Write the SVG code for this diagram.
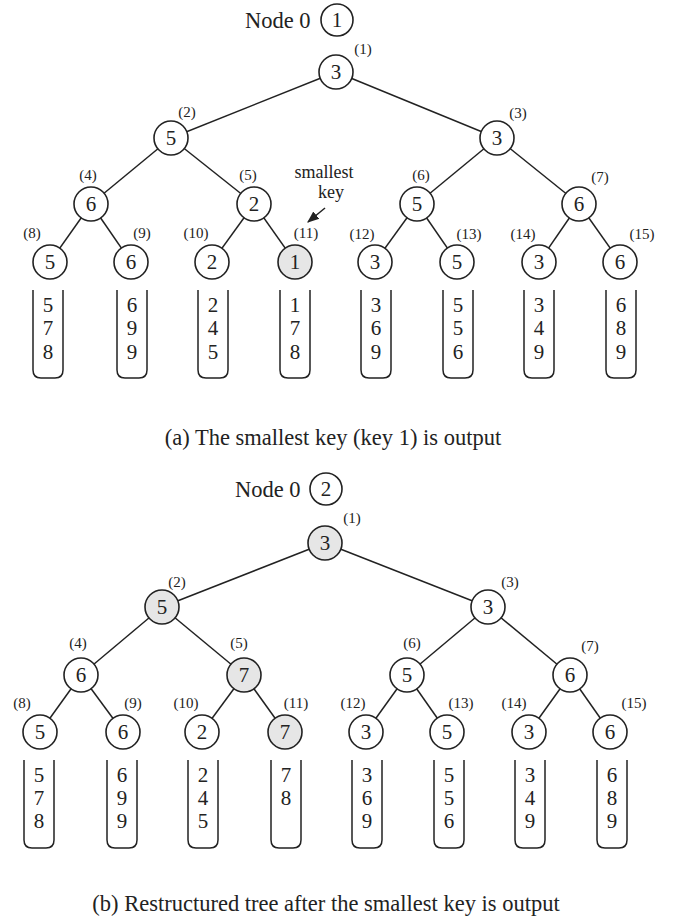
<svg xmlns="http://www.w3.org/2000/svg" width="680" height="921" viewBox="0 0 680 921">
<defs>
<style>
.e{stroke:#222;stroke-width:1.5;fill:none}
.n circle{fill:#fff;stroke:#222;stroke-width:1.6}
.n.s circle{fill:#e6e6e6}
.n text,.d{font-family:"Liberation Serif",serif;font-size:21px;fill:#222;text-anchor:middle}
.l{font-family:"Liberation Serif",serif;font-size:15px;fill:#222;text-anchor:middle}
.t{font-family:"Liberation Serif",serif;font-size:22.5px;fill:#222}
.r{stroke:#222;stroke-width:1.5;fill:none}
</style>
<marker id="ah" viewBox="0 0 10 10" refX="9" refY="5" markerWidth="8" markerHeight="8" orient="auto-start-reverse">
<path d="M0,1 L10,5 L0,9 z" fill="#222"/>
</marker>
</defs>
<rect width="680" height="921" fill="#fff"/>

<!-- Part (a) -->
<g id="connectors-a">
<line class="e" x1="336" y1="72" x2="171" y2="138"/>
<line class="e" x1="336" y1="72" x2="497" y2="138"/>
<line class="e" x1="171" y1="138" x2="91" y2="204"/>
<line class="e" x1="171" y1="138" x2="254" y2="204"/>
<line class="e" x1="497" y1="138" x2="417" y2="204"/>
<line class="e" x1="497" y1="138" x2="579" y2="204"/>
<line class="e" x1="91" y1="204" x2="50" y2="262"/>
<line class="e" x1="91" y1="204" x2="131" y2="262"/>
<line class="e" x1="254" y1="204" x2="212" y2="262"/>
<line class="e" x1="254" y1="204" x2="295" y2="262"/>
<line class="e" x1="417" y1="204" x2="375" y2="262"/>
<line class="e" x1="417" y1="204" x2="457" y2="262"/>
<line class="e" x1="579" y1="204" x2="539" y2="262"/>
<line class="e" x1="579" y1="204" x2="620" y2="262"/>
<line class="e" x1="325" y1="208" x2="308" y2="222" marker-end="url(#ah)"/>
</g>

<text class="t" x="245" y="28">Node 0</text>
<g id="a-node0" class="n"><circle cx="337" cy="20" r="16"/><text x="337" y="27">1</text></g>
<g id="a-n1" class="n"><circle cx="336" cy="72" r="17"/><text x="336" y="79">3</text></g>
<g id="a-n2" class="n"><circle cx="171" cy="138" r="17"/><text x="171" y="145">5</text></g>
<g id="a-n3" class="n"><circle cx="497" cy="138" r="17"/><text x="497" y="145">3</text></g>
<g id="a-n4" class="n"><circle cx="91" cy="204" r="17"/><text x="91" y="211">6</text></g>
<g id="a-n5" class="n"><circle cx="254" cy="204" r="17"/><text x="254" y="211">2</text></g>
<g id="a-n6" class="n"><circle cx="417" cy="204" r="17"/><text x="417" y="211">5</text></g>
<g id="a-n7" class="n"><circle cx="579" cy="204" r="17"/><text x="579" y="211">6</text></g>
<g id="a-n8" class="n"><circle cx="50" cy="262" r="17"/><text x="50" y="269">5</text></g>
<g id="a-n9" class="n"><circle cx="131" cy="262" r="17"/><text x="131" y="269">6</text></g>
<g id="a-n10" class="n"><circle cx="212" cy="262" r="17"/><text x="212" y="269">2</text></g>
<g id="a-n11" class="n s"><circle cx="295" cy="262" r="17"/><text x="295" y="269">1</text></g>
<g id="a-n12" class="n"><circle cx="375" cy="262" r="17"/><text x="375" y="269">3</text></g>
<g id="a-n13" class="n"><circle cx="457" cy="262" r="17"/><text x="457" y="269">5</text></g>
<g id="a-n14" class="n"><circle cx="539" cy="262" r="17"/><text x="539" y="269">3</text></g>
<g id="a-n15" class="n"><circle cx="620" cy="262" r="17"/><text x="620" y="269">6</text></g>

<g id="a-labels">
<text class="l" x="363" y="54">(1)</text>
<text class="l" x="187" y="117">(2)</text>
<text class="l" x="518" y="118">(3)</text>
<text class="l" x="88" y="180">(4)</text>
<text class="l" x="248" y="180">(5)</text>
<text class="l" x="421" y="180">(6)</text>
<text class="l" x="600" y="182">(7)</text>
<text class="l" x="32" y="238">(8)</text>
<text class="l" x="142" y="238">(9)</text>
<text class="l" x="196" y="238">(10)</text>
<text class="l" x="306" y="238">(11)</text>
<text class="l" x="362" y="239">(12)</text>
<text class="l" x="469" y="239">(13)</text>
<text class="l" x="523" y="239">(14)</text>
<text class="l" x="642" y="239">(15)</text>
</g>
<text class="t" x="324" y="178" text-anchor="middle" style="font-size:18px">smallest</text>
<text class="t" x="331" y="198" text-anchor="middle" style="font-size:18px">key</text>

<g id="a-runs">
<path class="r" d="M33,290 V370 Q33,378 41,378 H55 Q63,378 63,370 V290"/>
<text class="d" x="48" y="312">5</text><text class="d" x="48" y="335">7</text><text class="d" x="48" y="359">8</text>
<path class="r" d="M117,290 V370 Q117,378 125,378 H139 Q147,378 147,370 V290"/>
<text class="d" x="132" y="312">6</text><text class="d" x="132" y="335">9</text><text class="d" x="132" y="359">9</text>
<path class="r" d="M198,290 V370 Q198,378 206,378 H220 Q228,378 228,370 V290"/>
<text class="d" x="213" y="312">2</text><text class="d" x="213" y="335">4</text><text class="d" x="213" y="359">5</text>
<path class="r" d="M280,290 V370 Q280,378 288,378 H302 Q310,378 310,370 V290"/>
<text class="d" x="295" y="312">1</text><text class="d" x="295" y="335">7</text><text class="d" x="295" y="359">8</text>
<path class="r" d="M361,290 V370 Q361,378 369,378 H383 Q391,378 391,370 V290"/>
<text class="d" x="376" y="312">3</text><text class="d" x="376" y="335">6</text><text class="d" x="376" y="359">9</text>
<path class="r" d="M443,290 V370 Q443,378 451,378 H465 Q473,378 473,370 V290"/>
<text class="d" x="458" y="312">5</text><text class="d" x="458" y="335">5</text><text class="d" x="458" y="359">6</text>
<path class="r" d="M524,290 V370 Q524,378 532,378 H546 Q554,378 554,370 V290"/>
<text class="d" x="539" y="312">3</text><text class="d" x="539" y="335">4</text><text class="d" x="539" y="359">9</text>
<path class="r" d="M606,290 V370 Q606,378 614,378 H628 Q636,378 636,370 V290"/>
<text class="d" x="621" y="312">6</text><text class="d" x="621" y="335">8</text><text class="d" x="621" y="359">9</text>
</g>
<text class="t" x="333" y="445" text-anchor="middle">(a) The smallest key (key 1) is output</text>

<!-- Part (b) -->
<g id="connectors-b">
<line class="e" x1="325" y1="543" x2="162" y2="607"/>
<line class="e" x1="325" y1="543" x2="488" y2="607"/>
<line class="e" x1="162" y1="607" x2="81" y2="675"/>
<line class="e" x1="162" y1="607" x2="244" y2="675"/>
<line class="e" x1="488" y1="607" x2="407" y2="675"/>
<line class="e" x1="488" y1="607" x2="570" y2="675"/>
<line class="e" x1="81" y1="675" x2="40" y2="732"/>
<line class="e" x1="81" y1="675" x2="123" y2="732"/>
<line class="e" x1="244" y1="675" x2="202" y2="732"/>
<line class="e" x1="244" y1="675" x2="285" y2="732"/>
<line class="e" x1="407" y1="675" x2="366" y2="732"/>
<line class="e" x1="407" y1="675" x2="447" y2="732"/>
<line class="e" x1="570" y1="675" x2="529" y2="732"/>
<line class="e" x1="570" y1="675" x2="610" y2="732"/>
</g>

<text class="t" x="235" y="497">Node 0</text>
<g id="b-node0" class="n"><circle cx="326" cy="489" r="16"/><text x="326" y="496">2</text></g>
<g id="b-n1" class="n s"><circle cx="325" cy="543" r="17"/><text x="325" y="550">3</text></g>
<g id="b-n2" class="n s"><circle cx="162" cy="607" r="17"/><text x="162" y="614">5</text></g>
<g id="b-n3" class="n"><circle cx="488" cy="607" r="17"/><text x="488" y="614">3</text></g>
<g id="b-n4" class="n"><circle cx="81" cy="675" r="17"/><text x="81" y="682">6</text></g>
<g id="b-n5" class="n s"><circle cx="244" cy="675" r="17"/><text x="244" y="682">7</text></g>
<g id="b-n6" class="n"><circle cx="407" cy="675" r="17"/><text x="407" y="682">5</text></g>
<g id="b-n7" class="n"><circle cx="570" cy="675" r="17"/><text x="570" y="682">6</text></g>
<g id="b-n8" class="n"><circle cx="40" cy="732" r="17"/><text x="40" y="739">5</text></g>
<g id="b-n9" class="n"><circle cx="123" cy="732" r="17"/><text x="123" y="739">6</text></g>
<g id="b-n10" class="n"><circle cx="202" cy="732" r="17"/><text x="202" y="739">2</text></g>
<g id="b-n11" class="n s"><circle cx="285" cy="732" r="17"/><text x="285" y="739">7</text></g>
<g id="b-n12" class="n"><circle cx="366" cy="732" r="17"/><text x="366" y="739">3</text></g>
<g id="b-n13" class="n"><circle cx="447" cy="732" r="17"/><text x="447" y="739">5</text></g>
<g id="b-n14" class="n"><circle cx="529" cy="732" r="17"/><text x="529" y="739">3</text></g>
<g id="b-n15" class="n"><circle cx="610" cy="732" r="17"/><text x="610" y="739">6</text></g>

<g id="b-labels">
<text class="l" x="352" y="523">(1)</text>
<text class="l" x="177" y="587">(2)</text>
<text class="l" x="510" y="587">(3)</text>
<text class="l" x="78" y="648">(4)</text>
<text class="l" x="239" y="648">(5)</text>
<text class="l" x="412" y="648">(6)</text>
<text class="l" x="590" y="651">(7)</text>
<text class="l" x="22" y="708">(8)</text>
<text class="l" x="133" y="708">(9)</text>
<text class="l" x="186" y="708">(10)</text>
<text class="l" x="296" y="708">(11)</text>
<text class="l" x="353" y="708">(12)</text>
<text class="l" x="461" y="708">(13)</text>
<text class="l" x="514" y="708">(14)</text>
<text class="l" x="634" y="708">(15)</text>
</g>

<g id="b-runs">
<path class="r" d="M24,760 V840 Q24,848 32,848 H46 Q54,848 54,840 V760"/>
<text class="d" x="39" y="782">5</text><text class="d" x="39" y="805">7</text><text class="d" x="39" y="828">8</text>
<path class="r" d="M107,760 V840 Q107,848 115,848 H129 Q137,848 137,840 V760"/>
<text class="d" x="122" y="782">6</text><text class="d" x="122" y="805">9</text><text class="d" x="122" y="828">9</text>
<path class="r" d="M188,760 V840 Q188,848 196,848 H210 Q218,848 218,840 V760"/>
<text class="d" x="203" y="782">2</text><text class="d" x="203" y="805">4</text><text class="d" x="203" y="828">5</text>
<path class="r" d="M271,760 V840 Q271,848 279,848 H293 Q301,848 301,840 V760"/>
<text class="d" x="286" y="782">7</text><text class="d" x="286" y="805">8</text>
<path class="r" d="M352,760 V840 Q352,848 360,848 H374 Q382,848 382,840 V760"/>
<text class="d" x="367" y="782">3</text><text class="d" x="367" y="805">6</text><text class="d" x="367" y="828">9</text>
<path class="r" d="M434,760 V840 Q434,848 442,848 H456 Q464,848 464,840 V760"/>
<text class="d" x="449" y="782">5</text><text class="d" x="449" y="805">5</text><text class="d" x="449" y="828">6</text>
<path class="r" d="M515,760 V840 Q515,848 523,848 H537 Q545,848 545,840 V760"/>
<text class="d" x="530" y="782">3</text><text class="d" x="530" y="805">4</text><text class="d" x="530" y="828">9</text>
<path class="r" d="M597,760 V840 Q597,848 605,848 H619 Q627,848 627,840 V760"/>
<text class="d" x="612" y="782">6</text><text class="d" x="612" y="805">8</text><text class="d" x="612" y="828">9</text>
</g>
<text class="t" x="326" y="911" text-anchor="middle">(b) Restructured tree after the smallest key is output</text>
</svg>
